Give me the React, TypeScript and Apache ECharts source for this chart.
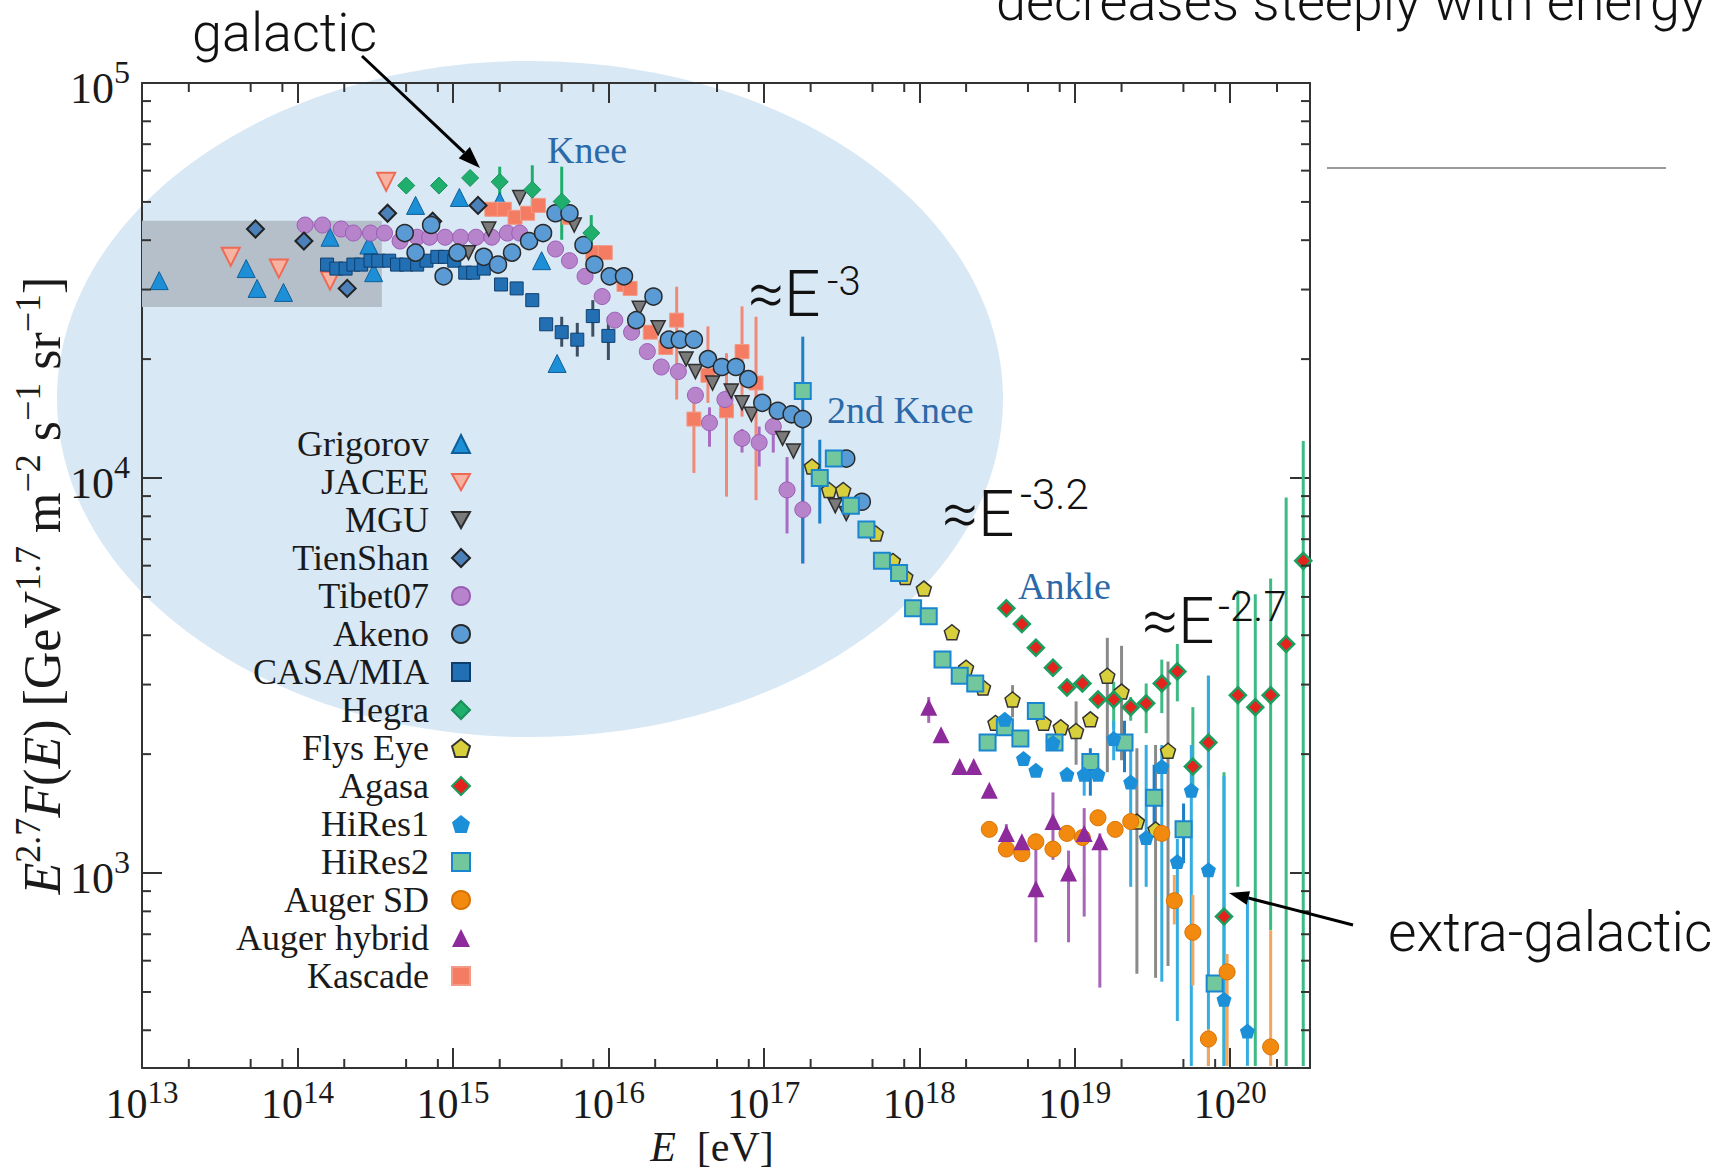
import React, { useEffect, useRef } from 'react';
import * as echarts from 'echarts';

// ---------- axis ranges & tick definitions ----------
const X_MIN = 1e13;
const X_MAX = 3.26e20;
const Y_MIN = 321;
const Y_MAX = 1e5;
const X_DECADES = [13, 14, 15, 16, 17, 18, 19, 20];
const X_MINOR_MANTISSAS = [2, 5, 8];
const Y_DECADES = [2, 3, 4];
const Y_MINOR_MANTISSAS = [2, 3, 4, 5, 6, 7, 8, 9];

// ---------- data: [E (eV), E^2.7 F(E)] ----------
const grigorov = [[1.29e13, 31600], [4.68e13, 33900], [5.5e13, 30200], [8.13e13, 29500], [1.62e14, 40700], [2.88e14, 38900], [3.09e14, 33100], [5.75e14, 49000], [1.1e15, 51300], [2.0e15, 50100], [3.72e15, 35500], [4.68e15, 19500]];
const jacee = [[3.72e13, 36300], [7.59e13, 33900], [1.62e14, 31600], [3.72e14, 56200]];
const mgu = [[1.26e15, 37200], [1.7e15, 42700], [2.69e15, 51300], [6.03e15, 43700], [1.58e16, 26900], [2.09e16, 24000], [3.16e16, 20000], [3.63e16, 18600], [4.68e16, 17400], [6.17e16, 16600], [7.24e16, 15500], [8.32e16, 14500], [1.32e17, 12600], [1.55e17, 11700], [2.88e17, 8510], [3.39e17, 8130]];
const tienShan = [[5.37e13, 42700], [1.1e14, 39800], [2.09e14, 30200], [3.8e14, 46800], [7.41e14, 44700], [1.45e15, 49000]];
const tibet07 = [[1.12e14, 43700], [1.45e14, 43700], [1.91e14, 42700], [2.29e14, 41700], [2.95e14, 41700], [3.63e14, 41700], [4.57e14, 39800], [5.89e14, 40700], [7.08e14, 40700], [8.91e14, 40700], [1.12e15, 40700], [1.41e15, 40700], [1.78e15, 40700], [2.24e15, 41700], [2.69e15, 41700], [4.57e15, 38000], [5.62e15, 35500], [7.08e15, 32400], [9.12e15, 28800], [1.1e16, 25100], [1.41e16, 23400], [1.78e16, 20900], [2.19e16, 19100], [2.82e16, 18600], [3.63e16, 16200], [4.47e16, 13800], [5.62e16, 15800], [7.24e16, 12600], [9.33e16, 12300], [1.15e17, 13500], [1.41e17, 9330], [1.78e17, 8320]];
const akeno = [[4.9e14, 41700], [5.75e14, 37200], [7.24e14, 43700], [8.71e14, 32400], [1.07e15, 37200], [1.58e15, 36300], [1.95e15, 34700], [2.4e15, 37200], [3.09e15, 39800], [3.8e15, 41700], [4.57e15, 46800], [5.62e15, 46800], [6.92e15, 38900], [8.13e15, 34700], [1.02e16, 32400], [1.26e16, 32400], [1.51e16, 25100], [1.95e16, 28800], [2.45e16, 22400], [2.88e16, 22400], [3.55e16, 22400], [4.37e16, 20000], [5.37e16, 19100], [6.61e16, 19100], [7.94e16, 17800], [9.77e16, 15500], [1.23e17, 14800], [1.51e17, 14500], [1.78e17, 14100], [3.39e17, 11200], [4.27e17, 8710]];
const casaMia = [[1.55e14, 34700], [1.78e14, 33900], [2.04e14, 33900], [2.29e14, 34700], [2.57e14, 34700], [2.95e14, 35500], [3.31e14, 35500], [3.89e14, 35500], [4.37e14, 34700], [5.01e14, 34700], [5.89e14, 34700], [6.76e14, 35500], [7.94e14, 36300], [8.91e14, 36300], [1.02e15, 35500], [1.2e15, 33100], [1.35e15, 33100], [1.58e15, 33900], [2.04e15, 30900], [2.57e15, 30200], [3.24e15, 28200], [3.98e15, 24500], [5.01e15, 23400], [6.31e15, 22400], [7.94e15, 25700], [1.0e16, 22900]];
const hegra = [[5.01e14, 55000], [8.13e14, 55000], [1.29e15, 57500], [2.0e15, 56200], [3.24e15, 53700], [5.01e15, 50100], [7.76e15, 41700]];
const flysEye = [[2.04e17, 10700], [2.63e17, 9330], [3.24e17, 9330], [5.25e17, 7240], [6.76e17, 6170], [8.13e17, 5620], [1.07e18, 5250], [1.62e18, 4070], [2.0e18, 3310], [2.57e18, 2950], [3.09e18, 2400], [3.98e18, 2750], [6.31e18, 2400], [8.13e18, 2340], [1.02e19, 2290], [1.26e19, 2450], [1.62e19, 3160], [2.0e19, 2880], [2.51e19, 1350], [3.31e19, 1290], [3.98e19, 2040]];
const agasa = [[3.63e18, 4680], [4.57e18, 4270], [5.62e18, 3720], [7.24e18, 3310], [8.91e18, 2950], [1.12e19, 3020], [1.41e19, 2750], [1.78e19, 2750], [2.29e19, 2630], [2.88e19, 2690], [3.63e19, 3020], [4.57e19, 3240], [5.75e19, 1860], [7.24e19, 2140], [9.12e19, 776], [1.12e20, 2820], [1.45e20, 2630], [1.82e20, 2820], [2.29e20, 3800], [2.95e20, 6170]];
const hiRes1 = [[3.55e18, 2450], [4.68e18, 1950], [5.62e18, 1820], [7.24e18, 2140], [8.91e18, 1780], [1.15e19, 1780], [1.41e19, 1780], [1.78e19, 2190], [2.29e19, 1700], [2.88e19, 1230], [3.63e19, 1860], [4.57e19, 1070], [5.62e19, 1620], [7.24e19, 1020], [9.12e19, 479], [1.29e20, 398]];
const hiRes2 = [[1.78e17, 16600], [2.29e17, 10000], [2.82e17, 11200], [3.63e17, 8510], [4.57e17, 7410], [5.75e17, 6170], [7.41e17, 5750], [9.12e17, 4680], [1.15e18, 4470], [1.41e18, 3470], [1.82e18, 3160], [2.29e18, 3020], [2.75e18, 2140], [3.55e18, 2340], [4.47e18, 2190], [5.62e18, 2570], [7.41e18, 2140], [1.26e19, 1910], [2.09e19, 2140], [3.24e19, 1550], [5.01e19, 1290], [7.94e19, 525]];
const augerSD = [[2.82e18, 1290], [3.63e18, 1150], [4.57e18, 1120], [5.62e18, 1200], [7.24e18, 1150], [8.91e18, 1260], [1.12e19, 1230], [1.41e19, 1380], [1.82e19, 1290], [2.29e19, 1350], [3.63e19, 1260], [4.37e19, 851], [5.75e19, 708], [7.24e19, 380], [9.55e19, 562], [1.82e20, 363]];
const augerHybrid = [[1.15e18, 2630], [1.38e18, 2240], [1.82e18, 1860], [2.24e18, 1860], [2.82e18, 1620], [3.63e18, 1260], [4.57e18, 1200], [5.62e18, 912], [7.24e18, 1350], [9.12e18, 1000], [1.15e19, 1260], [1.45e19, 1200]];
const kascade = [[1.78e15, 47900], [2.14e15, 47900], [2.51e15, 45700], [3.02e15, 46800], [3.55e15, 49000], [5.62e15, 45700], [7.94e15, 37200], [9.55e15, 37200], [1.26e16, 30900], [1.38e16, 30200], [1.86e16, 23400], [2.34e16, 21400], [2.75e16, 25100], [3.55e16, 14100], [4.37e16, 18200], [5.75e16, 14800], [7.24e16, 20900], [8.91e16, 17400]];

// ---------- error bars: [E, low, high] ----------
const tibet07Err = [[4.47e16, 12000, 15100], [7.24e16, 11600, 13300], [9.33e16, 10700, 13500], [1.15e17, 11600, 14300], [1.41e17, 7240, 11300], [1.78e17, 6080, 9890]];
const casaMiaErr = [[5.01e15, 21500, 25600], [6.31e15, 20300, 24700], [7.94e15, 22800, 28200], [1.0e16, 19900, 25600]];
const hegraErr = [[2.0e15, 51000, 61400], [3.24e15, 45900, 61900], [5.01e15, 40100, 61400], [7.76e15, 37800, 46300]];
const kascadeErr = [[2.75e16, 15800, 30500], [3.55e16, 10300, 16100], [4.37e16, 15500, 24200], [5.75e16, 8970, 20700], [7.24e16, 14300, 27200], [8.91e16, 8790, 25600]];
const flysEyeErr = [[3.98e18, 2480, 2990], [1.02e19, 1880, 2720], [1.62e19, 1800, 3940], [2.0e19, 1930, 3760], [2.51e19, 556, 2070], [3.31e19, 543, 2110], [3.98e19, 582, 3430]];
const agasaErr = [[1.78e19, 2320, 3050], [2.29e19, 2430, 2790], [2.88e19, 2260, 3020], [3.63e19, 2540, 3470], [4.57e19, 2720, 3800], [5.75e19, 1620, 2630], [7.24e19, 1640, 3160], [9.12e19, 325, 1800], [1.12e20, 923, 5200], [1.45e20, 325, 5080], [1.82e20, 716, 5570], [2.29e20, 325, 8930], [2.95e20, 325, 12400]];
const hiRes1Err = [[1.15e19, 1570, 1930], [1.78e19, 1930, 2430], [2.29e19, 923, 2070], [2.88e19, 923, 2110], [3.63e19, 531, 2110], [4.57e19, 422, 1220], [5.62e19, 325, 2110], [7.24e19, 325, 3160], [9.12e19, 325, 1760], [1.29e20, 325, 881]];
const hiRes2Err = [[1.78e17, 6080, 22800], [2.29e17, 7670, 12500], [1.26e19, 1570, 2070], [2.09e19, 1800, 2430], [3.24e19, 1270, 1880], [5.01e19, 1060, 1500]];
const augerSDErr = [[4.37e19, 741, 989], [5.75e19, 519, 881], [7.24e19, 325, 403], [9.55e19, 325, 624], [1.82e20, 325, 716]];
const augerHybridErr = [[1.15e18, 2400, 2790], [3.63e18, 1110, 1330], [5.62e18, 668, 1220], [7.24e18, 1080, 1600], [9.12e18, 668, 1140], [1.15e19, 776, 1460], [1.45e19, 513, 1260]];

// shaded band (direct measurements region)
const BAND_E = [1e13, 3.49e14];
const BAND_F = [27100, 44800];

const LEGEND_NAMES = ['Grigorov', 'JACEE', 'MGU', 'TienShan', 'Tibet07', 'Akeno', 'CASA/MIA', 'Hegra', 'Flys Eye', 'Agasa', 'HiRes1', 'HiRes2', 'Auger SD', 'Auger hybrid', 'Kascade'];

const SERIF = '"Liberation Serif", "DejaVu Serif", serif';
const SANS = 'Roboto, "Liberation Sans", Arial, sans-serif';
const INK = '#1a1a1a';
const FRAME = '#333333';
const PENTAGON = 'path://M0,4L5,0L10,4L8.2,10L1.8,10Z';
const DOWN_TRI = 'path://M0,0L10,0L5,9Z';

function expLabel(v: number) {
  const e = Math.log10(v);
  const r = Math.round(e);
  if (Math.abs(e - r) > 1e-6) return '';
  return `{b|10}{s|${r}}`;
}

function supRich(base: number, sup: number, lh: number) {
  return {
    b: { fontSize: base, fontFamily: SERIF, color: INK, lineHeight: lh, verticalAlign: 'bottom' },
    s: { fontSize: sup, fontFamily: SERIF, color: INK, lineHeight: 30, verticalAlign: 'top' },
  };
}

function scatter(name: string, data: number[][], symbol: string, size: number, fill: string, border: string, bw: number) {
  return {
    type: 'scatter', name, data, symbol, symbolSize: size, z: 3, silent: true,
    itemStyle: { color: fill, borderColor: border, borderWidth: bw, opacity: 1 },
  };
}

function errBars(name: string, data: number[][], color: string) {
  return {
    type: 'custom', name: name + ' errors', data, encode: { x: 0, y: [1, 2] }, z: 1, silent: true, clip: true,
    renderItem: (_p: any, api: any) => {
      const e = api.value(0);
      const lo = api.coord([e, api.value(1)]);
      const hi = api.coord([e, api.value(2)]);
      return { type: 'line', shape: { x1: lo[0], y1: lo[1], x2: hi[0], y2: hi[1] }, style: { stroke: color, lineWidth: 3 } };
    },
  };
}

function buildOption() {
  const xMinor: number[][] = [];
  X_DECADES.forEach((d) => X_MINOR_MANTISSAS.forEach((m) => {
    const v = m * Math.pow(10, d);
    if (v > X_MIN && v < X_MAX) xMinor.push([v, Y_MIN]);
  }));
  const yMinor: number[][] = [];
  Y_DECADES.forEach((d) => Y_MINOR_MANTISSAS.forEach((m) => {
    const v = m * Math.pow(10, d);
    if (v > Y_MIN && v < Y_MAX) yMinor.push([X_MIN, v]);
  }));
  const tickStyle = { stroke: FRAME, lineWidth: 2 };

  const grig: any = scatter('Grigorov', grigorov, 'triangle', 18, '#1d8fd6', '#0e5f99', 1);
  grig.markArea = {
    silent: true,
    itemStyle: { color: '#b4bfca', opacity: 1, borderWidth: 0 },
    data: [[{ coord: [BAND_E[0], BAND_F[0]] }, { coord: [BAND_E[1], BAND_F[1]] }]],
  };

  const axisCommon = {
    type: 'log', logBase: 10,
    axisLine: { show: true, lineStyle: { color: FRAME, width: 2 } },
    axisTick: { show: true, inside: true, length: 20, lineStyle: { color: FRAME, width: 2 } },
    splitLine: { show: false },
    nameMoveOverlap: false,
  };

  const txt = (text: string, x: number, y: number, size: number, family: string, fill: string, weight: any = 'normal') => ({
    type: 'text', x, y, z: 100, silent: true,
    style: { text, fontSize: size, lineHeight: size, fontFamily: family, fontWeight: weight, fill, verticalAlign: 'middle', align: 'left' },
  });

  return {
    animation: false,
    backgroundColor: '#ffffff',
    grid: { left: 142, right: 419, top: 83, bottom: 101, containLabel: false, outerBoundsMode: 'none' },
    xAxis: [
      {
        ...axisCommon, min: X_MIN, max: X_MAX, position: 'bottom',
        axisLabel: { show: true, margin: 9, formatter: expLabel, rich: supRich(42, 31, 48) },
        name: '{i|E}{n|  [eV]}', nameLocation: 'middle', nameGap: 61,
        nameTextStyle: {
          padding: [0, 28, 0, 0],
          rich: {
            i: { fontSize: 42, lineHeight: 36, fontFamily: SERIF, fontStyle: 'italic', color: INK },
            n: { fontSize: 42, lineHeight: 36, fontFamily: SERIF, color: INK },
          },
        },
      },
      { ...axisCommon, min: X_MIN, max: X_MAX, position: 'top', axisLabel: { show: false } },
    ],
    yAxis: [
      {
        ...axisCommon, min: Y_MIN, max: Y_MAX, position: 'left',
        axisLabel: { show: true, margin: 12, formatter: expLabel, rich: supRich(44, 32, 54) },
        name: '{i|E}{s|2.7}{i|F}{n|(}{i|E}{n|) [GeV}{s|1.7}{n| m}{s|−2}{n| s}{s|−1}{n| sr}{s|−1}{n|]}',
        nameLocation: 'middle', nameRotate: 90, nameGap: 74,
        nameTextStyle: {
          padding: [0, 20, 0, 0],
          rich: {
            i: { fontSize: 52, fontFamily: SERIF, fontStyle: 'italic', color: INK, lineHeight: 58, verticalAlign: 'bottom' },
            n: { fontSize: 52, fontFamily: SERIF, color: INK, lineHeight: 58, verticalAlign: 'bottom' },
            s: { fontSize: 36, fontFamily: SERIF, color: INK, lineHeight: 36, verticalAlign: 'top' },
          },
        },
      },
      { ...axisCommon, min: Y_MIN, max: Y_MAX, position: 'right', axisLabel: { show: false } },
    ],
    legend: {
      data: LEGEND_NAMES, orient: 'vertical', align: 'right', right: 1258, top: 426, padding: 0,
      itemGap: 2, itemWidth: 18, itemHeight: 18, selectedMode: false, z: 5,
      textStyle: { fontFamily: SERIF, fontSize: 36, color: INK, lineHeight: 36, padding: [0, 18, 0, 0] },
    },
    graphic: [
      { type: 'ellipse', z: -10, silent: true, shape: { cx: 530, cy: 399, rx: 473, ry: 338 }, style: { fill: '#d9e8f5' } },
      { type: 'line', z: 100, silent: true, shape: { x1: 362, y1: 56, x2: 464.3, y2: 152.6 }, style: { stroke: '#000', lineWidth: 3 } },
      { type: 'polygon', z: 100, silent: true, shape: { points: [[480, 168], [458.7, 158.3], [469.9, 146.9]] }, style: { fill: '#000' } },
      { type: 'line', z: 100, silent: true, shape: { x1: 1353, y1: 925, x2: 1248.4, y2: 898 }, style: { stroke: '#000', lineWidth: 3 } },
      { type: 'polygon', z: 100, silent: true, shape: { points: [[1229, 893], [1250.1, 891.2], [1246.6, 904.8]] }, style: { fill: '#000' } },
      { type: 'line', z: 100, silent: true, shape: { x1: 1327, y1: 168, x2: 1666, y2: 168 }, style: { stroke: '#9a9a9a', lineWidth: 2 } },
      txt('galactic', 192, 32, 54, SANS, '#111', 300),
      txt('decreases steeply with energy', 996, 1, 54, SANS, '#111', 300),
      txt('extra-galactic', 1388, 932, 55, SANS, '#111', 300),
      txt('≈E', 748, 294, 64, SANS, '#111', 300),
      txt('-3', 827, 281, 40, SANS, '#111', 300),
      txt('≈E', 942, 514, 64, SANS, '#111', 300),
      txt('-3.2', 1020, 494, 42, SANS, '#111', 300),
      txt('≈E', 1142, 621, 64, SANS, '#111', 300),
      txt('-2.7', 1218, 606, 42, SANS, '#111', 300),
      txt('Knee', 547, 150, 38, SERIF, '#2b69a8'),
      txt('2nd Knee', 827, 410, 38, SERIF, '#2b69a8'),
      txt('Ankle', 1018, 586, 38, SERIF, '#2b69a8'),
    ],
    series: [
      errBars('Tibet07', tibet07Err, '#a86cc4'),
      errBars('CASA/MIA', casaMiaErr, '#3d4f63'),
      errBars('Hegra', hegraErr, '#1fae6b'),
      errBars('Kascade', kascadeErr, '#f08a78'),
      errBars('Flys Eye', flysEyeErr, '#8a8a8a'),
      errBars('Agasa', agasaErr, '#3dbb85'),
      errBars('HiRes1', hiRes1Err, '#35ade3'),
      errBars('HiRes2', hiRes2Err, '#1d7fc6'),
      errBars('Auger SD', augerSDErr, '#f4a65a'),
      errBars('Auger hybrid', augerHybridErr, '#a866b8'),
      grig,
      scatter('JACEE', jacee, DOWN_TRI, 18, '#f7b3a1', '#ee6a55', 2),
      scatter('Kascade', kascade, 'rect', 14, '#f47c62', '#f29a86', 1),
      scatter('Tibet07', tibet07, 'circle', 16, '#b784cc', '#9b5cb5', 1),
      scatter('CASA/MIA', casaMia, 'rect', 13, '#2270b3', '#0f3f6e', 1),
      scatter('MGU', mgu, DOWN_TRI, 14, '#7a7a7a', '#2e2e2e', 1.5),
      scatter('TienShan', tienShan, 'diamond', 17, '#4b80b9', '#222222', 2),
      scatter('Akeno', akeno, 'circle', 17, '#5b9bd5', '#2a2a2a', 1.5),
      scatter('Hegra', hegra, 'diamond', 17, '#1fae6b', '#16915a', 1),
      scatter('Flys Eye', flysEye, PENTAGON, 15, '#d8cf3c', '#333333', 1.5),
      scatter('HiRes2', hiRes2, 'rect', 16, '#72c89c', '#1a86d0', 2),
      scatter('Agasa', agasa, 'diamond', 16, '#e3241d', '#1c9e5f', 2.5),
      scatter('HiRes1', hiRes1, PENTAGON, 15, '#1b8fd8', '#1b8fd8', 0),
      scatter('Auger SD', augerSD, 'circle', 16, '#f28a10', '#d97200', 1),
      scatter('Auger hybrid', augerHybrid, 'triangle', 17, '#8e2b9c', '#8e2b9c', 0),
      {
        type: 'custom', name: 'x minor ticks', data: xMinor, z: 5, silent: true, clip: false,
        renderItem: (_p: any, api: any) => {
          const v = api.value(0);
          const b = api.coord([v, Y_MIN]);
          const t = api.coord([v, Y_MAX]);
          return {
            type: 'group', children: [
              { type: 'line', shape: { x1: b[0], y1: b[1], x2: b[0], y2: b[1] - 9 }, style: tickStyle },
              { type: 'line', shape: { x1: t[0], y1: t[1], x2: t[0], y2: t[1] + 9 }, style: tickStyle },
            ],
          };
        },
      },
      {
        type: 'custom', name: 'y minor ticks', data: yMinor, z: 5, silent: true, clip: false,
        renderItem: (_p: any, api: any) => {
          const v = api.value(1);
          const l = api.coord([X_MIN, v]);
          const r = api.coord([X_MAX, v]);
          return {
            type: 'group', children: [
              { type: 'line', shape: { x1: l[0], y1: l[1], x2: l[0] + 9, y2: l[1] }, style: tickStyle },
              { type: 'line', shape: { x1: r[0], y1: r[1], x2: r[0] - 9, y2: r[1] }, style: tickStyle },
            ],
          };
        },
      },
    ],
  };
}

export default function App() {
  const ref = useRef<HTMLDivElement>(null);
  useEffect(() => {
    if (!ref.current) return;
    const chart = echarts.init(ref.current, null, { renderer: 'svg' });
    chart.setOption(buildOption() as any);
    return () => chart.dispose();
  }, []);
  return <div ref={ref} style={{ position: 'absolute', left: 0, top: 0, width: 1729, height: 1169 }} />;
}
